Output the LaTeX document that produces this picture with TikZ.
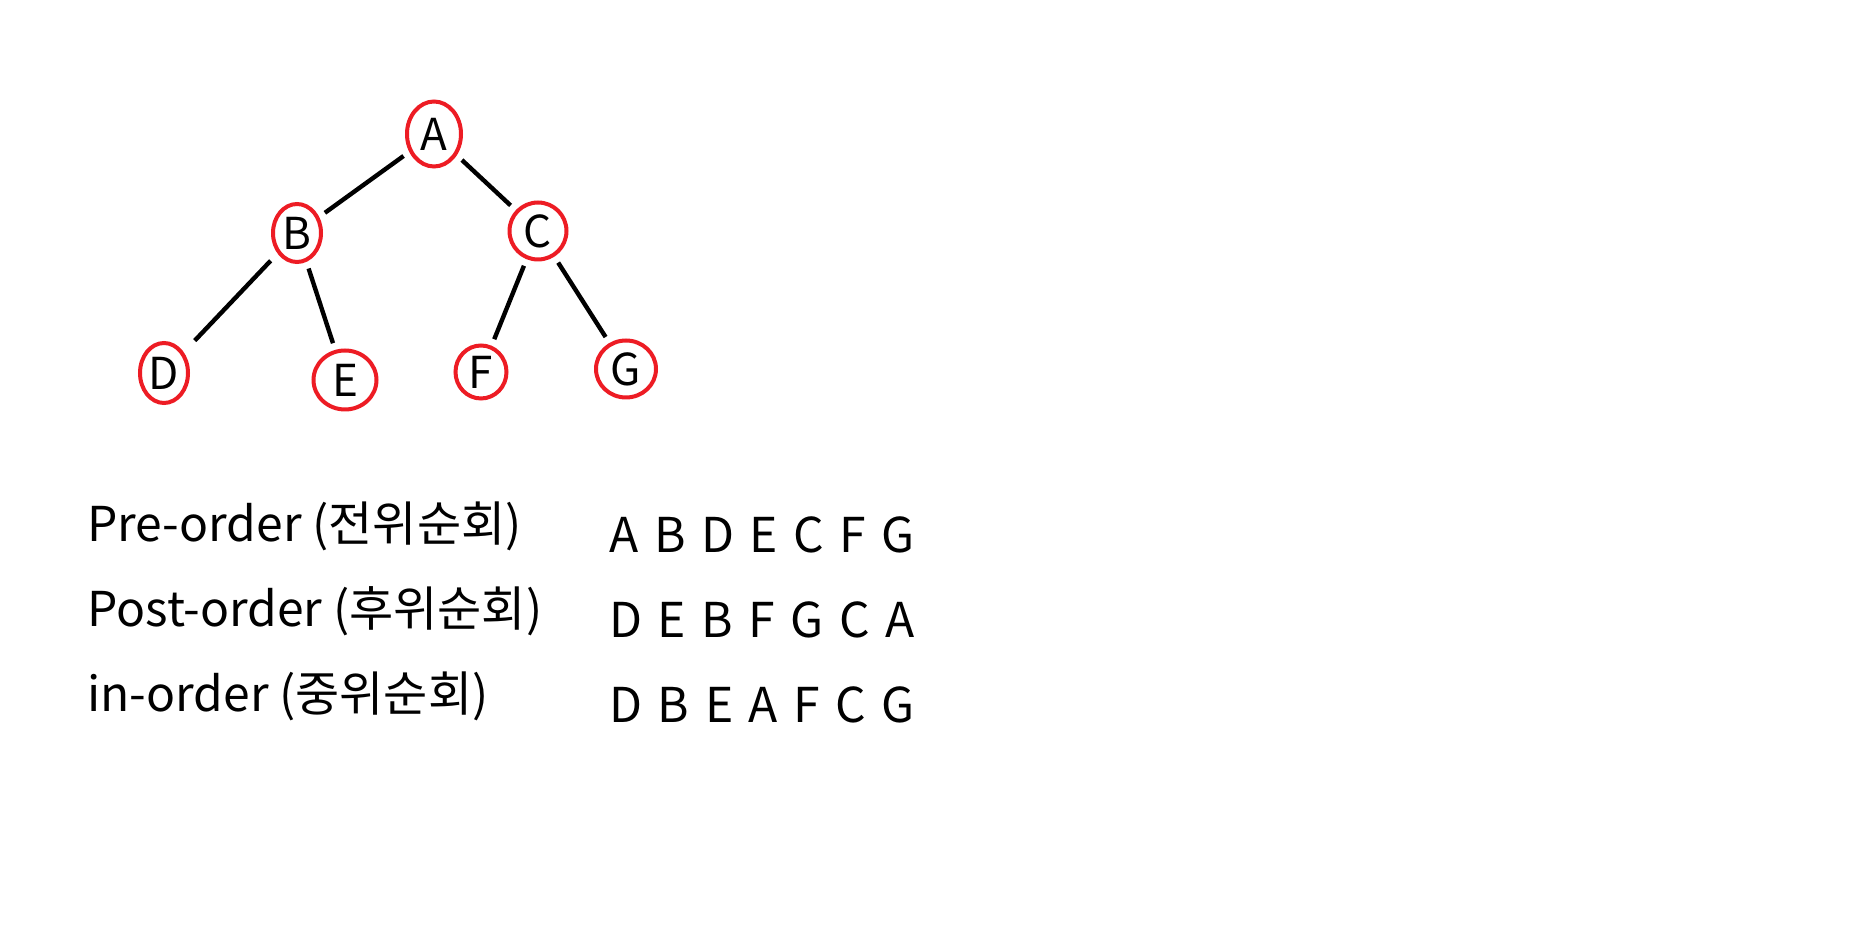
\documentclass[tikz,border=0pt]{standalone}
\usepackage{fontspec}
\setmainfont{Noto Sans CJK KR}
\usetikzlibrary{shapes.geometric}
\definecolor{paintred}{RGB}{237,28,36}
\newcommand\Gp{\kern2.4pt\relax\space}
\begin{document}
\begin{tikzpicture}[x=0.5pt,y=-0.5pt,
  tnode/.style={ellipse,draw=paintred,line width=2pt,inner sep=0pt,
    font=\fontsize{22}{26}\selectfont},
  edge/.style={line width=2.2pt,black,shorten <=3.5pt,shorten >=3.5pt},
  label/.style={anchor=base west,inner sep=0pt,font=\fontsize{24}{28}\selectfont}]
\useasboundingbox[fill=white] (0,0) rectangle (1876,929);
\node[tnode,minimum width=27pt,minimum height=32.5pt] (A) at (434,134) {A};
\node[tnode,minimum width=24pt,minimum height=29pt] (B) at (297,233) {B};
\node[tnode,minimum width=28.5pt,minimum height=28.5pt] (C) at (538,231) {C};
\node[tnode,minimum width=24pt,minimum height=30pt] (D) at (164,373) {D};
\node[tnode,minimum width=31.5pt,minimum height=29.5pt] (E) at (345,380) {E};
\node[tnode,minimum width=25.5pt,minimum height=26.5pt] (F) at (481,372) {F};
\node[tnode,minimum width=30pt,minimum height=28.5pt] (G) at (626,369) {G};
\draw[edge] (A) -- (B);
\draw[edge] (A) -- (C);
\draw[edge,shorten <=5pt,shorten >=8pt] (B) -- (D);
\draw[edge] (B) -- (E);
\draw[edge] (C) -- (F);
\draw[edge] (C) -- (G);
\node[label] (pre) at (87,542) {Pre-order (전위순회)};
\node[label] (post) at (87,627) {Post-order (후위순회)};
\node[label] (in) at (87,712) {in-order (중위순회)};
\node[label] (preseq) at (609,553) {A\Gp B\Gp D\Gp E\Gp C\Gp F\Gp G};
\node[label] (postseq) at (609,638) {D\Gp E\Gp B\Gp F\Gp G\Gp C\Gp A};
\node[label] (inseq) at (609,723) {D\Gp B\Gp E\Gp A\Gp F\Gp C\Gp G};
\end{tikzpicture}
\end{document}
